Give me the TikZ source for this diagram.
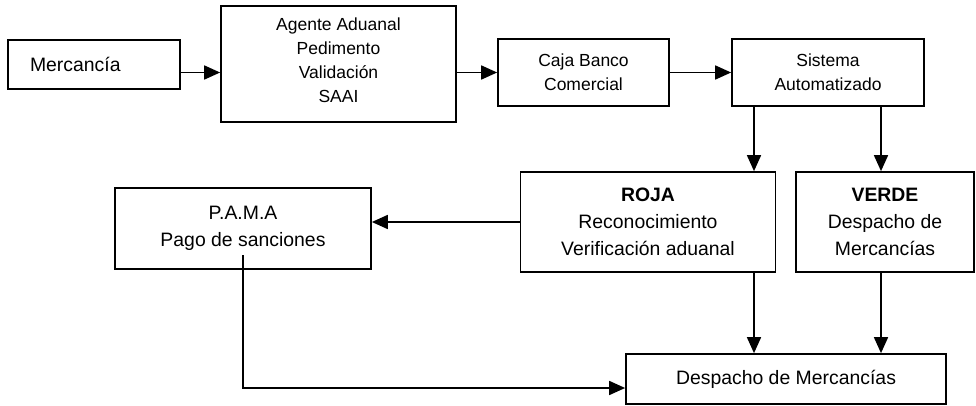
\documentclass[tikz,border=0pt]{standalone}
\usepackage{fontspec}
\setmainfont{Liberation Sans}
\usetikzlibrary{arrows.meta}
\tikzset{
  box/.style={draw, line width=1.7pt, rectangle, inner sep=0pt, align=center},
  small/.style={font=\fontsize{17.5}{24}\selectfont},
  big/.style={font=\fontsize{19.4}{27}\selectfont},
  arr/.style={line width=1.7pt, -{Triangle[length=16pt,width=14pt]}}
}
\begin{document}
\begin{tikzpicture}[x=1pt,y=-1pt]
\useasboundingbox (0,0) rectangle (976,406);
\node[box, big, minimum width=172pt, minimum height=49pt, text width=128pt, inner xsep=22pt, align=left] (merc) at (94,64.5) {Mercancía};
\node[box, small, minimum width=235pt, minimum height=116pt, text depth=8pt] (agente) at (338.5,64) {Agente Aduanal\\Pedimento\\Validación\\SAAI};
\node[box, small, minimum width=171pt, minimum height=67pt] (caja) at (583.5,72.5) {Caja Banco\\Comercial};
\node[box, small, minimum width=192pt, minimum height=67pt] (sist) at (828,72.5) {Sistema\\Automatizado};
\node[box, big, minimum width=255pt, minimum height=100pt] (roja) at (648,222) {\textbf{ROJA}\\Reconocimiento\\Verificación aduanal};
\node[box, big, minimum width=178pt, minimum height=100pt] (verde) at (885,222) {\textbf{VERDE}\\Despacho de\\Mercancías};
\node[box, big, minimum width=256pt, minimum height=81pt] (pama) at (243,228.5) {P.A.M.A\\Pago de sanciones};
\node[box, big, minimum width=320pt, minimum height=50pt] (desp) at (786,379) {Despacho de Mercancías};

\coordinate (p1) at (754,0);
\coordinate (p2) at (881,0);
\coordinate (pb) at (243,255);
\coordinate (pc) at (243,388);

\draw[arr] (merc.east |- caja.west) -- (agente.west |- caja.west);
\draw[arr] (agente.east |- caja.west) -- (caja.west);
\draw[arr] (caja.east) -- (sist.west);
\draw[arr] (sist.south -| p1) -- (roja.north -| p1);
\draw[arr] (sist.south -| p2) -- (verde.north -| p2);
\draw[arr] (roja.west) -- (pama.east |- roja.west);
\draw[arr] (roja.south -| p1) -- (desp.north -| p1);
\draw[arr] (verde.south -| p2) -- (desp.north -| p2);
\draw[arr] (pb) -- (pc) -- (desp.west |- pc);
\end{tikzpicture}
\end{document}
